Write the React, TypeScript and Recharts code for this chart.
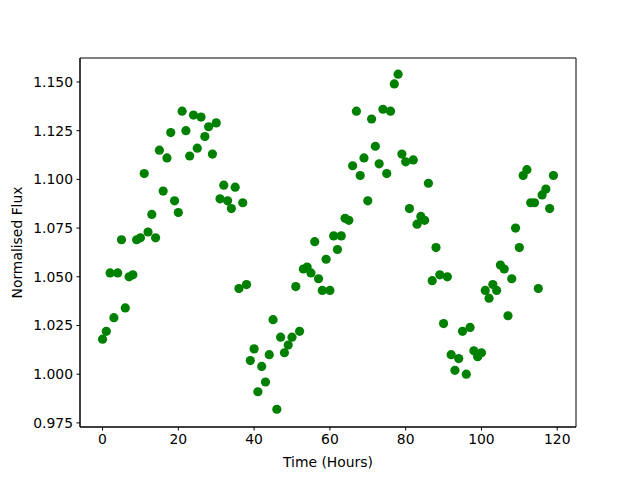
import { ReferenceArea, Scatter, ScatterChart, XAxis, YAxis } from "recharts"

// hourly readings, 0..119 h
const hours = Array.from({ length: 120 }, (_, i) => i)

const flux = [
  1.018, 1.022, 1.052, 1.029, 1.052, 1.069, 1.034, 1.050, 1.051, 1.069,
  1.070, 1.103, 1.073, 1.082, 1.070, 1.115, 1.094, 1.111, 1.124, 1.089,
  1.083, 1.135, 1.125, 1.112, 1.133, 1.116, 1.132, 1.122, 1.127, 1.113,
  1.129, 1.090, 1.097, 1.089, 1.085, 1.096, 1.044, 1.088, 1.046, 1.007,
  1.013, 0.991, 1.004, 0.996, 1.010, 1.028, 0.982, 1.019, 1.011, 1.015,
  1.019, 1.045, 1.022, 1.054, 1.055, 1.052, 1.068, 1.049, 1.043, 1.059,
  1.043, 1.071, 1.064, 1.071, 1.080, 1.079, 1.107, 1.135, 1.102, 1.111,
  1.089, 1.131, 1.117, 1.108, 1.136, 1.103, 1.135, 1.149, 1.154, 1.113,
  1.109, 1.085, 1.110, 1.077, 1.081, 1.079, 1.098, 1.048, 1.065, 1.051,
  1.026, 1.050, 1.010, 1.002, 1.008, 1.022, 1.000, 1.024, 1.012, 1.009,
  1.011, 1.043, 1.039, 1.046, 1.043, 1.056, 1.054, 1.030, 1.049, 1.075,
  1.065, 1.102, 1.105, 1.088, 1.088, 1.044, 1.092, 1.095, 1.085, 1.102,
]

const xTicks = [0, 20, 40, 60, 80, 100, 120]
const yTicks = [0.975, 1.0, 1.025, 1.05, 1.075, 1.1, 1.125, 1.15]

const xDomain = [-5.95, 124.95]
const yDomain = [0.9729, 1.1623]

const data = hours.map((h, i) => ({ time: h, flux: flux[i] }))

const font = { fontFamily: "DejaVu Sans", fontSize: 13.9, fill: "#000" }

const Dot = (props: any) => (
  <circle cx={props.cx} cy={props.cy} r={4.6} fill="#008000" />
)

export default function App() {
  return (
    <div style={{ position: "absolute", left: 0, top: 0, background: "#fff" }}>
      <ScatterChart
        width={640}
        height={480}
        margin={{ top: 58, right: 64, bottom: 0, left: 0 }}
      >
        <XAxis
          dataKey="time"
          type="number"
          domain={xDomain}
          ticks={xTicks}
          height={53}
          tickSize={3.5}
          tickMargin={3.5}
          tick={font}
          stroke="#000"
          allowDataOverflow
          label={{ value: "Time (Hours)", position: "insideBottom", offset: 13, style: font }}
        />
        <YAxis
          dataKey="flux"
          type="number"
          domain={yDomain}
          ticks={yTicks}
          width={80}
          tickSize={3.5}
          tickMargin={3.5}
          tick={font}
          tickFormatter={(v: number) => v.toFixed(3)}
          stroke="#000"
          allowDataOverflow
          label={{ value: "Normalised Flux", angle: -90, position: "center", dx: -23, style: font }}
        />
        <Scatter data={data} fill="#008000" shape={Dot} isAnimationActive={false} />
        {/* frame around the plot area */}
        <ReferenceArea
          x1={xDomain[0]}
          x2={xDomain[1]}
          y1={yDomain[0]}
          y2={yDomain[1]}
          fill="none"
          fillOpacity={0}
          stroke="#000"
          strokeWidth={1}
          strokeOpacity={1}
          ifOverflow="visible"
        />
      </ScatterChart>
    </div>
  )
}
